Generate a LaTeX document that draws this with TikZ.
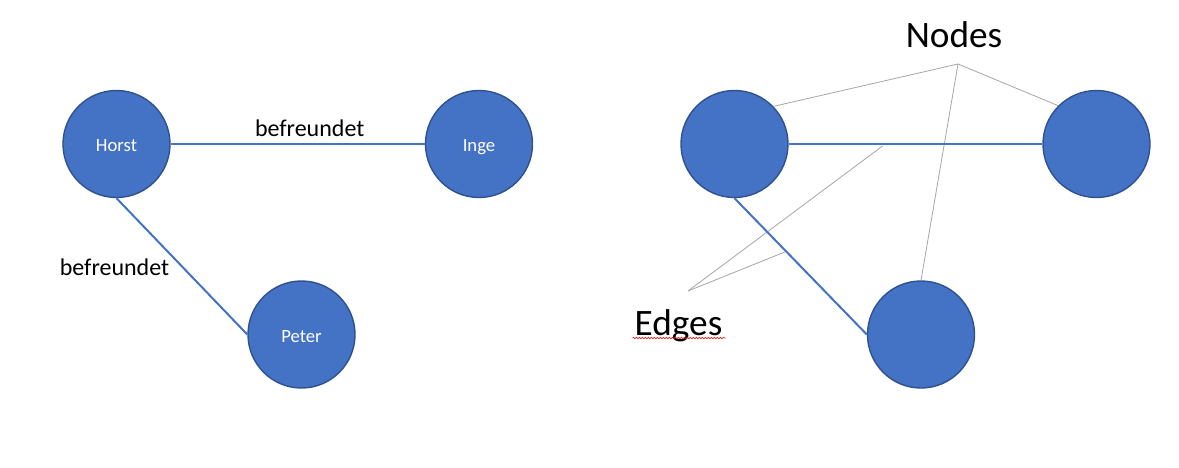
\documentclass[tikz,border=0pt]{standalone}
\usepackage{fontspec}
\setmainfont{Carlito}
\usetikzlibrary{decorations.pathmorphing}
\definecolor{nodeblue}{HTML}{4472C4}
\definecolor{nodeborder}{HTML}{2F528F}
\definecolor{callgray}{HTML}{A6A6A6}
\definecolor{spellred}{HTML}{E02020}
\begin{document}
\begin{tikzpicture}[x=1pt,y=-1pt,
  vertex/.style={circle, fill=nodeblue, draw=nodeborder, line width=1.4pt,
    minimum size=107pt, inner sep=0pt, text=white,
    font=\fontsize{18.7}{20}\selectfont, text height=15pt, text depth=0pt},
  edgeline/.style={draw=nodeblue, line width=2pt},
  callout/.style={draw=callgray, line width=0.8pt},
  elabel/.style={font=\fontsize{24}{28}\selectfont, text=black, inner sep=0pt},
  bigtext/.style={font=\fontsize{37.3}{40}\selectfont, text=black, inner sep=0pt}]
\useasboundingbox (0,0) rectangle (1179,467);
\fill[white] (0,0) rectangle (1179,467);

% left graph
\node[vertex] (horst) at (116.5,144) {Horst};
\node[vertex] (inge)  at (479,144)   {Inge};
\node[vertex] (peter) at (301.5,334.5) {Peter};
\draw[edgeline] (horst.east) -- (inge.west);
\draw[edgeline] (horst.south) -- (peter.west);
\node[elabel, anchor=base] (lab1) at (309.7,136) {befreundet};
\node[elabel, anchor=base] (lab2) at (114.5,275) {befreundet};

% right graph
\node[vertex] (a) at (734.5,144) {};
\node[vertex] (b) at (1096.5,144) {};
\node[vertex] (c) at (921,334.5) {};

\node[bigtext, anchor=base] (nodeslbl) at (954,47) {Nodes};
\node[bigtext, anchor=base] (edgeslbl) at (678.5,335) {Edges};
\draw[spellred, line width=0.6pt, decorate,
  decoration={snake, amplitude=0.8pt, segment length=3pt}]
  ([xshift=-2pt,yshift=-3pt]edgeslbl.base west) -- ([xshift=3pt,yshift=-3pt]edgeslbl.base east);

\coordinate (nap) at (958,64);
\coordinate (eap) at (688,291);
\path (a.east) -- coordinate[pos=0.37] (ab) (b.west);
\path (a.south) -- coordinate[pos=0.38] (ac) (c.west);
\draw[callout] (nap) -- (a.44);
\draw[callout] (nap) -- (b.135);
\draw[callout] (nap) -- (c.north);
\draw[callout] (eap) -- ([yshift=-2pt]ab);
\draw[callout] (eap) -- ([yshift=-2pt]ac);

\draw[edgeline] (a.east) -- (b.west);
\draw[edgeline] (a.south) -- (c.west);
\end{tikzpicture}
\end{document}
